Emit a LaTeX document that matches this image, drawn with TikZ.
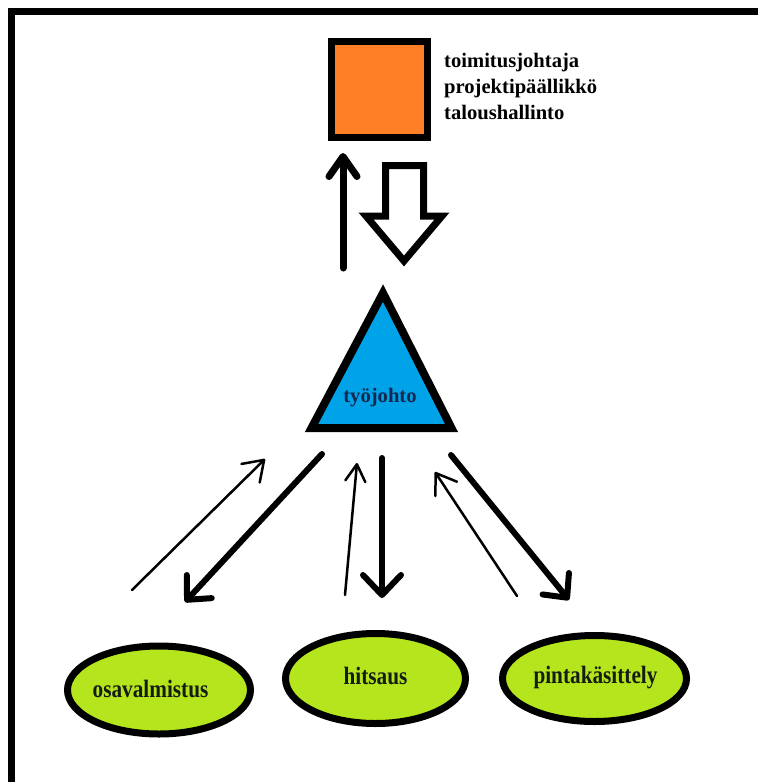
\documentclass[tikz,border=0pt]{standalone}
\usepackage{fontspec}
\setmainfont{Liberation Serif}
\usetikzlibrary{arrows.meta,shapes.geometric}

\definecolor{paintorange}{RGB}{255,127,39}
\definecolor{paintblue}{RGB}{0,162,232}
\definecolor{paintlime}{RGB}{181,230,29}
\definecolor{navytext}{RGB}{20,40,80}
\definecolor{darktext}{RGB}{20,28,20}

\tikzset{
  boxnode/.style={draw, line width=7pt, fill=paintorange, minimum size=96pt, inner sep=0pt},
  teamnode/.style={ellipse, draw, line width=7pt, fill=paintlime, inner sep=0pt},
  teamtext/.style={text=darktext, font=\fontsize{25}{30}\selectfont\bfseries,
    inner sep=0pt, anchor=base},
  roletext/.style={font=\fontsize{20.6}{25.6}\selectfont\bfseries, text=black, inner sep=0pt},
  thickarrow/.style={line width=6pt, line cap=round,
    -{Straight Barb[length=18pt, width=34pt, round]}},
  thinarrow/.style={line width=2.5pt, line cap=round,
    -{Straight Barb[length=19pt, width=26pt, round]}},
}

\begin{document}
\begin{tikzpicture}[x=1pt, y=-1pt]
  \useasboundingbox (0,0) rectangle (758,782);
  \fill[white] (0,0) rectangle (758,782);

  % open frame along the top and left edges
  \draw[line width=7pt, line join=miter] (11.5,782) -- (11.5,11.5) -- (758,11.5);

  % management box and its roles
  \node[boxnode] (mgmt) at (379.5,89.5) {};
  \node[roletext, anchor=base west, align=left] (roles) at (444,119)
    {toimitusjohtaja\\projektipäällikkö\\taloushallinto};

  % report up and the wide instruction arrow down
  \coordinate (repTail) at (343,268);
  \coordinate (repTip) at (343,153);
  \draw[line width=7pt, line cap=round,
        -{Straight Barb[length=20pt, width=28pt, round]}] (repTail) -- (repTip);

  \coordinate (wTop) at (404.5,165.5);
  \coordinate (wTip) at (404,261);
  \draw[line width=7pt, line join=miter, fill=white]
    ([xshift=-19pt]wTop) -- ([xshift=19pt]wTop) -- (423.5,216) -- (442,216)
    -- (wTip) -- (366,216) -- (385.5,216) -- cycle;

  % supervision triangle
  \coordinate (apex) at (383,293);
  \coordinate (baseL) at (311.5,428);
  \coordinate (baseR) at (451.5,428);
  \draw[line width=8pt, line join=miter, fill=paintblue] (apex) -- (baseR) -- (baseL) -- cycle;
  \node[roletext, text=navytext, anchor=base] (lead) at (380,402.7) {työjohto};

  % work phases
  \node[teamnode, minimum width=183pt, minimum height=88pt] (osa) at (159,690) {};
  \node[teamnode, minimum width=180pt, minimum height=90pt] (hit) at (375.5,678.5) {};
  \node[teamnode, minimum width=184pt, minimum height=86pt] (pin) at (594.5,678.5) {};
  \node[teamtext] (osaText) at (150.5,697) {\scalebox{0.85}[1]{osavalmistus}};
  \node[teamtext] (hitText) at (375.5,684) {\scalebox{0.85}[1]{hitsaus}};
  \node[teamtext] (pinText) at (595.5,683) {\scalebox{0.85}[1]{pintakäsittely}};

  % arrow ends between the triangle and the phases
  \coordinate (aUpT) at (132,590);   \coordinate (aUpH) at (265,459);
  \coordinate (aDnT) at (322,454);   \coordinate (aDnH) at (185,602);
  \coordinate (bUpT) at (345,595);   \coordinate (bUpH) at (357,463);
  \coordinate (bDnT) at (382,458);   \coordinate (bDnH) at (382,598);
  \coordinate (cUpT) at (517,596);   \coordinate (cUpH) at (435,472);
  \coordinate (cDnT) at (451,455);   \coordinate (cDnH) at (569,600);

  \draw[thinarrow] (aUpT) -- (aUpH);
  \draw[thickarrow] (aDnT) -- (aDnH);
  \draw[thinarrow, -{Straight Barb[length=17pt, width=20pt, round]}] (bUpT) -- (bUpH);
  \draw[thickarrow, -{Straight Barb[length=20pt, width=38pt, round]}] (bDnT) -- (bDnH);
  \draw[thinarrow] (cUpT) -- (cUpH);
  \draw[thickarrow] (cDnT) -- (cDnH);
\end{tikzpicture}
\end{document}
